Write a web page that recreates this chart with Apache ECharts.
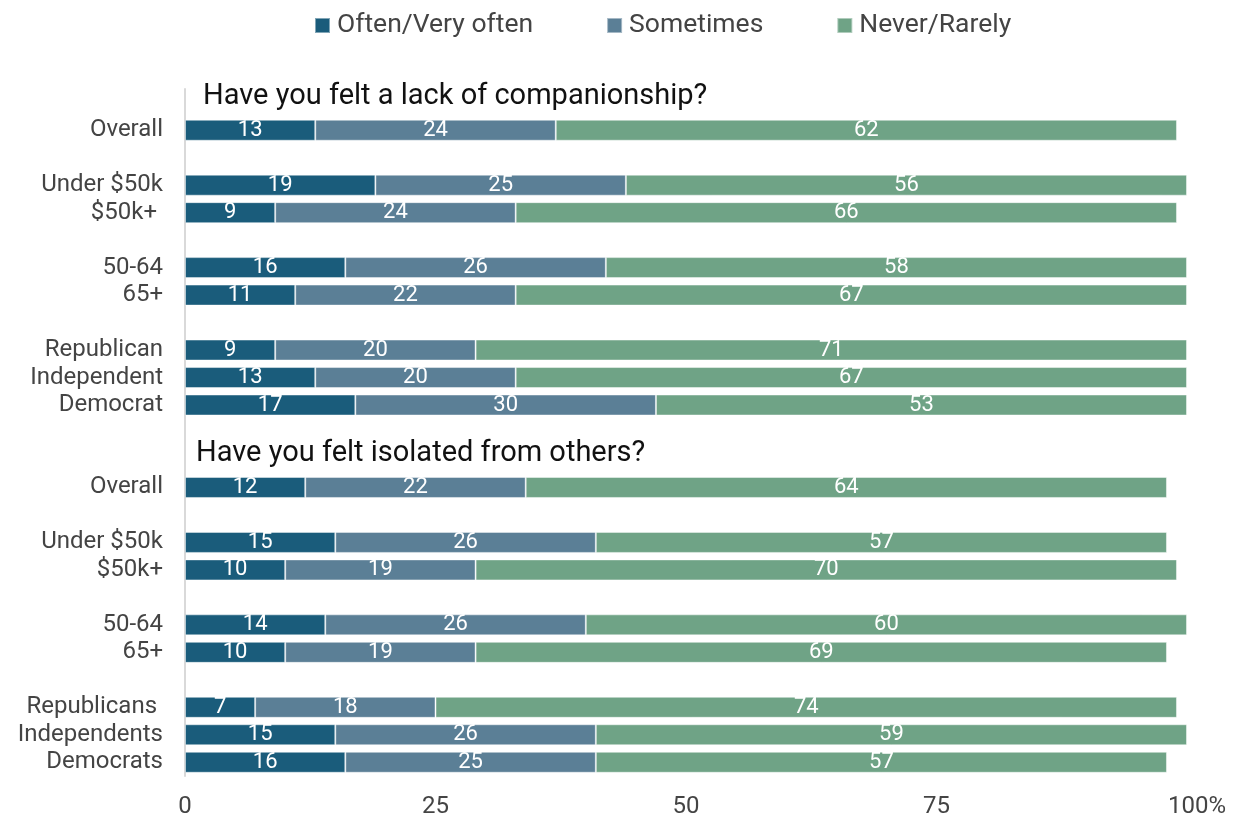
<!DOCTYPE html>
<html><head><meta charset="utf-8">
<script src="https://cdn.jsdelivr.net/npm/echarts@6/dist/echarts.min.js"></script>
<style>html,body{margin:0;padding:0;background:#fff}#c{width:1234px;height:819px}</style>
</head><body><div id="c"></div>
<script>
var categories = ['', 'Overall', '', 'Under $50k', '$50k+ ', '', '50-64', '65+', '', 'Republican', 'Independent', 'Democrat', '', '', 'Overall', '', 'Under $50k', '$50k+', '', '50-64', '65+', '', 'Republicans ', 'Independents', 'Democrats'];
var often =     [null, 13, null, 19, 9, null, 16, 11, null, 9, 13, 17, null, null, 12, null, 15, 10, null, 14, 10, null, 7, 15, 16];
var sometimes = [null, 24, null, 25, 24, null, 26, 22, null, 20, 20, 30, null, null, 22, null, 26, 19, null, 26, 19, null, 18, 26, 25];
var never =     [null, 62, null, 56, 66, null, 58, 67, null, 71, 67, 53, null, null, 64, null, 57, 70, null, 60, 69, null, 74, 59, 57];
var seriesNames = ['Often/Very often', 'Sometimes', 'Never/Rarely'];
var titles = ['Have you felt a lack of companionship?', 'Have you felt isolated from others?'];
var xTicks = [0, 25, 50, 75, 100];

var colors = ['#1a5c7b', '#5b7f96', '#6fa386'];
var chart = echarts.init(document.getElementById('c'));
function mk(name, data, color) {
  return {
    name: name, type: 'bar', stack: 'a', data: data, barWidth: 21,
    itemStyle: { color: color, borderColor: 'rgba(255,255,255,0.45)', borderWidth: 1 },
    label: { show: true, position: 'inside', color: '#fff', fontFamily: 'Roboto', fontSize: 22 }
  };
}
chart.setOption({
  textStyle: { fontFamily: 'Roboto' },
  title: [
    { text: titles[0], left: 198, top: 77, textStyle: { fontFamily: 'Roboto', fontSize: 29, fontWeight: 'normal', color: '#111' } },
    { text: titles[1], left: 191, top: 434, textStyle: { fontFamily: 'Roboto', fontSize: 29, fontWeight: 'normal', color: '#111' } }
  ],
  legend: {
    data: seriesNames, left: 309, top: 7, itemWidth: 15, itemHeight: 15, itemGap: 73, icon: 'rect',
    textStyle: { fontFamily: 'Roboto', fontSize: 26.5, color: '#444', padding: [0, 0, 0, 2] }
  },
  grid: { left: 185, right: 47, top: 89, bottom: 39 },
  xAxis: {
    type: 'value', min: 0, max: 100, interval: 25,
    axisLine: { show: false }, axisTick: { show: false }, splitLine: { show: false },
    axisLabel: {
      fontFamily: 'Roboto', fontSize: 24, color: '#444', margin: 19,
      formatter: function (v) { return v === 100 ? '{p|100%}' : String(v); },
      rich: { p: { fontFamily: 'Roboto', fontSize: 24, color: '#444', padding: [0, 0, 0, 20] } }
    }
  },
  yAxis: {
    type: 'category', inverse: true, data: categories,
    axisLine: { show: true, lineStyle: { color: '#d9d9d9', width: 2 } },
    axisTick: { show: false },
    axisLabel: { fontFamily: 'Roboto', fontSize: 24, color: '#444', margin: 22, interval: 0, padding: [3, 0, 0, 0] }
  },
  series: [mk(seriesNames[0], often, colors[0]), mk(seriesNames[1], sometimes, colors[1]), mk(seriesNames[2], never, colors[2])]
});
</script></body></html>
